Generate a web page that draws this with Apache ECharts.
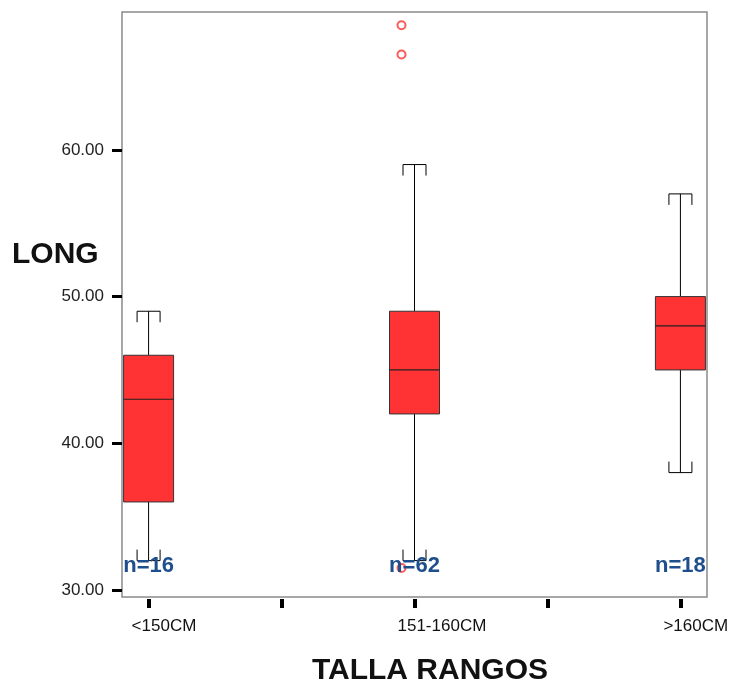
<!DOCTYPE html>
<html>
<head>
<meta charset="utf-8">
<script src="https://cdn.jsdelivr.net/npm/echarts@6/dist/echarts.min.js"></script>
<style>
html,body{margin:0;padding:0;background:#fff;}
#chart{width:733px;height:684px;}
</style>
</head>
<body>
<div id="chart"></div>
<script>
// ---- data ----
const categories = ['<150CM', '151-160CM', '>160CM'];
const lowWhisker = [32, 32, 38];
const q1 = [36, 42, 45];
const median = [43, 45, 48];
const q3 = [46, 49, 50];
const highWhisker = [49, 59, 57];
const outlierCategory = [1, 1, 1];
const outlierValues = [68.5, 66.5, 31.5];
const counts = [16, 62, 18];
const yTickValues = [30, 40, 50, 60];
const xTickValues = [0, 0.5, 1, 1.5, 2];
const xLabelValues = [0, 1, 2];

// ---- layout / style constants ----
const FONT = '"Liberation Sans", Arial, sans-serif';
const nLabelLevel = 31.62;

const boxRows = categories.map((c, i) => [i, lowWhisker[i], q1[i], median[i], q3[i], highWhisker[i]]);
const outlierRows = outlierValues.map((v, i) => [outlierCategory[i], v]);
const countRows = counts.map((n, i) => [i, nLabelLevel, n]);

const chart = echarts.init(document.getElementById('chart'), null, {renderer: 'canvas'});

function renderBox(params, api) {
  const i = api.value(0);
  const lo = api.coord([i, api.value(1)]);
  const b1 = api.coord([i, api.value(2)]);
  const md = api.coord([i, api.value(3)]);
  const b3 = api.coord([i, api.value(4)]);
  const hi = api.coord([i, api.value(5)]);
  const cx = lo[0];
  const hw = 25;   // half box width
  const cw = 11.5; // half cap width
  const leg = 11;  // cap leg length
  const line = {stroke: '#000', lineWidth: 1, fill: null};
  return {
    type: 'group',
    children: [
      {type: 'line', shape: {x1: cx, y1: hi[1], x2: cx, y2: b3[1]}, style: line},
      {type: 'line', shape: {x1: cx, y1: b1[1], x2: cx, y2: lo[1]}, style: line},
      {type: 'polyline', shape: {points: [[cx - cw, hi[1] + leg], [cx - cw, hi[1]], [cx + cw, hi[1]], [cx + cw, hi[1] + leg]]}, style: line},
      {type: 'polyline', shape: {points: [[cx - cw, lo[1] - leg], [cx - cw, lo[1]], [cx + cw, lo[1]], [cx + cw, lo[1] - leg]]}, style: line},
      {type: 'rect', shape: {x: cx - hw, y: b3[1], width: 2 * hw, height: b1[1] - b3[1]},
        style: {fill: '#ff3333', stroke: '#333', lineWidth: 1}},
      {type: 'line', shape: {x1: cx - hw, y1: md[1], x2: cx + hw, y2: md[1]}, style: {stroke: '#222', lineWidth: 1.2}}
    ]
  };
}

const option = {
  backgroundColor: '#fff',
  animation: false,
  textStyle: {fontFamily: FONT},
  grid: {
    left: 122, right: 26, top: 12, bottom: 87,
    outerBoundsMode: 'none', containLabel: false,
    show: true, borderColor: '#8a8a8a', borderWidth: 1.5, backgroundColor: 'transparent'
  },
  graphic: [
    {type: 'text', left: 12, top: 240, style: {text: 'LONG', font: 'bold 30px ' + FONT, fill: '#111'}}
  ],
  xAxis: {
    type: 'value', min: -0.1, max: 2.1,
    splitLine: {show: false},
    axisLine: {show: false, onZero: false},
    offset: 2,
    axisTick: {show: true, customValues: xTickValues, length: 9, lineStyle: {color: '#000', width: 4}},
    axisLabel: {
      customValues: xLabelValues,
      formatter: v => categories[Math.round(v)] || '',
      fontSize: 17, color: '#111', margin: 19, align: 'left', padding: [0, 0, 0, -17], fontFamily: FONT
    },
    name: 'TALLA RANGOS', nameLocation: 'middle', nameGap: 57,
    nameTextStyle: {fontSize: 30, fontWeight: 'bold', color: '#111', fontFamily: FONT, padding: [0, 0, 0, 31]}
  },
  yAxis: {
    type: 'value', min: 29.52, max: 69.4,
    splitLine: {show: false},
    axisLine: {show: false, onZero: false},
    axisTick: {show: true, customValues: yTickValues, length: 10, lineStyle: {color: '#000', width: 3}},
    axisLabel: {customValues: yTickValues, formatter: v => v.toFixed(2), fontSize: 17, color: '#222', margin: 18, fontFamily: FONT}
  },
  series: [
    {
      type: 'custom', renderItem: renderBox, data: boxRows,
      encode: {x: 0, y: [1, 2, 3, 4, 5]}, z: 2
    },
    {
      type: 'scatter', data: outlierRows, symbol: 'emptyCircle', symbolSize: 8,
      symbolOffset: [-13, 0],
      itemStyle: {color: '#ff5a5a', borderColor: '#ff4a4a', borderWidth: 2, opacity: 1}, z: 3
    },
    {
      type: 'scatter', data: countRows, symbolSize: 0, z: 4,
      itemStyle: {opacity: 1},
      label: {
        show: true, position: 'inside', formatter: p => 'n=' + p.value[2],
        fontSize: 22, fontWeight: 'bold', color: '#1f4e8c', opacity: 1, fontFamily: FONT
      }
    }
  ]
};
chart.setOption(option);
</script>
</body>
</html>
